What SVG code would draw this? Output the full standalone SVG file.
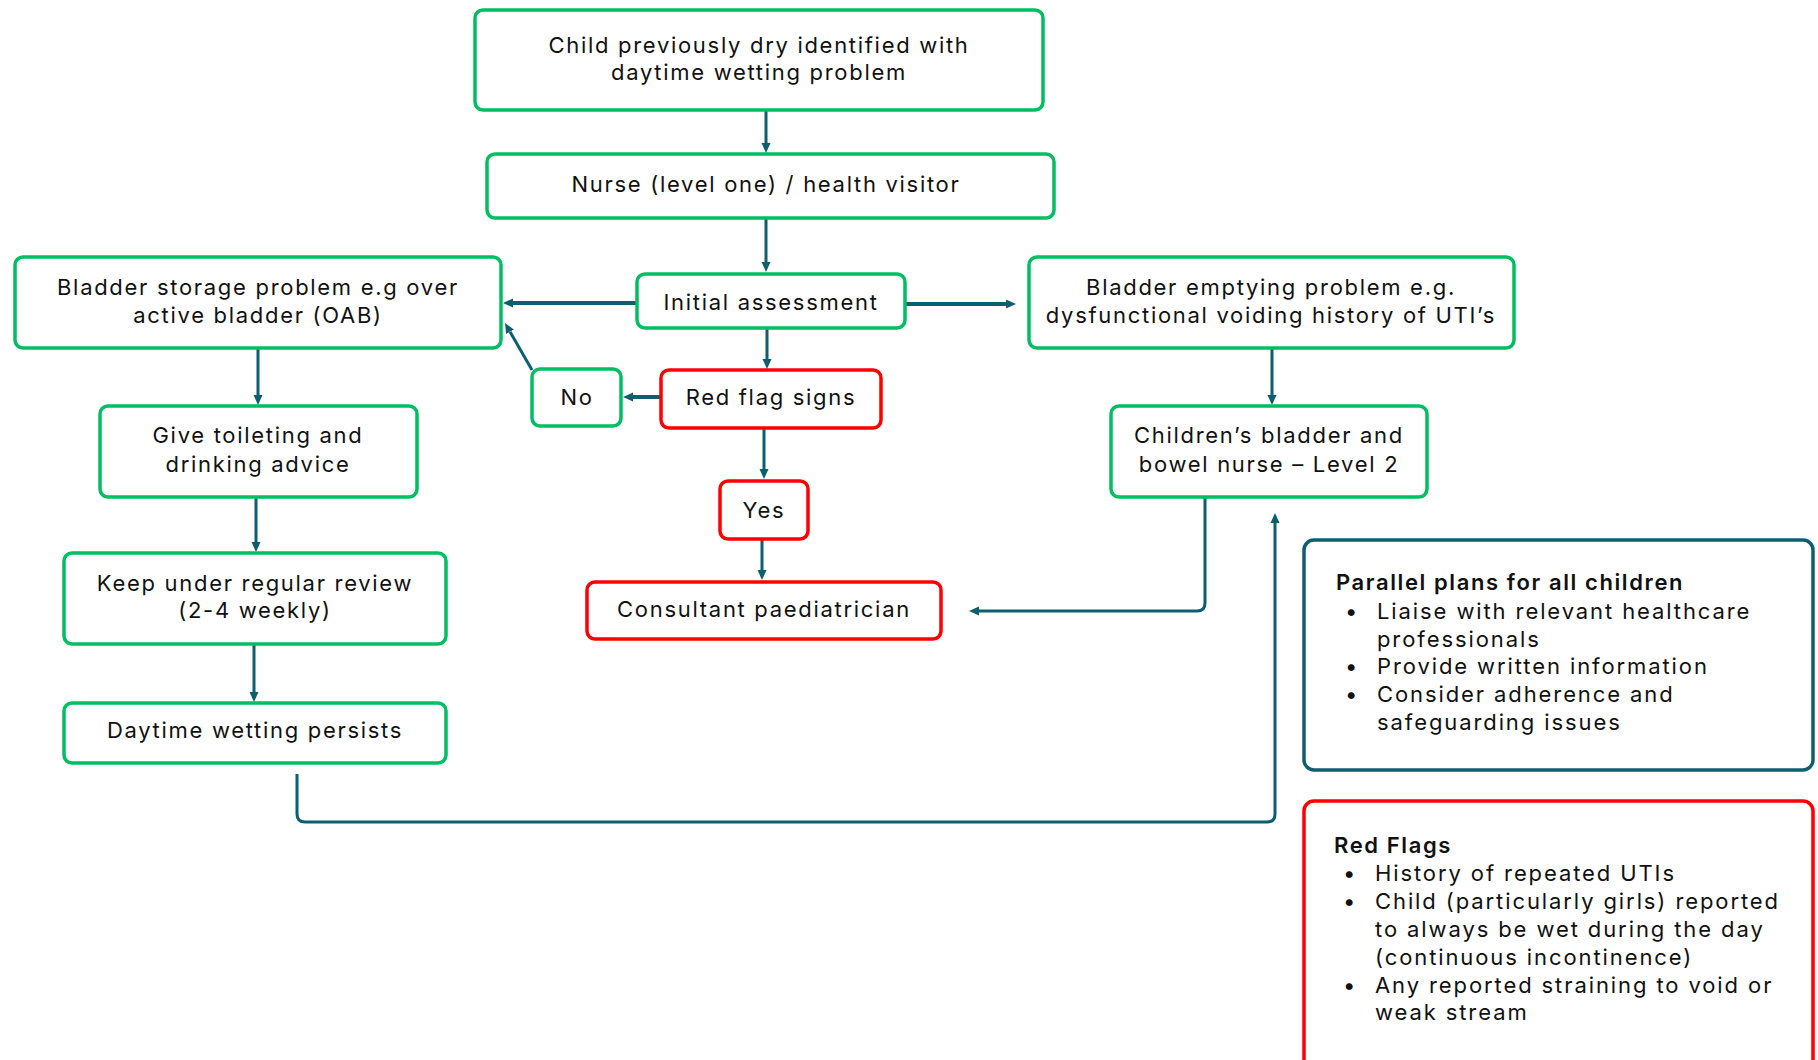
<svg xmlns="http://www.w3.org/2000/svg" width="1818" height="1060" viewBox="0 0 1818 1060">
<style>
.g{fill:#fff;stroke:#00BF63;stroke-width:3.5}
.r{fill:#fff;stroke:#FF0000;stroke-width:3.5}
.b{fill:#fff;stroke:#0B5F6F;stroke-width:3.5}
text{font-family:Inter,"Liberation Sans",sans-serif;font-size:22px;letter-spacing:1.7px;fill:#111}
.c{text-anchor:middle}
.p text{letter-spacing:1.9px}
.p text.bold{font-weight:600;letter-spacing:1.6px}
.con{fill:none;stroke:#0B5F6F;stroke-width:3;marker-end:url(#ah)}
.thick{stroke-width:4}
</style>
<defs>
<marker id="ah" viewBox="0 0 10 10" refX="0" refY="5" markerWidth="10" markerHeight="10" markerUnits="userSpaceOnUse" orient="auto">
<path d="M0,0.5 L10,5 L0,9.5 z" fill="#0B5F6F"/>
</marker>
</defs>
<rect width="1818" height="1060" fill="#fff"/>
<g id="connectors">
<path class="con" d="M766,110 V143"/>
<path class="con" d="M766,218 V262"/>
<path class="con thick" d="M637,303 H513"/>
<path class="con thick" d="M905,304 H1006"/>
<path class="con" d="M767,328 V359"/>
<path class="con thick" d="M661,397 H633"/>
<path class="con" d="M532,370 L510,331.7"/>
<path class="con" d="M764,428 V469"/>
<path class="con" d="M762,539 V570"/>
<path class="con" d="M258,348 V395"/>
<path class="con" d="M256,497 V542"/>
<path class="con" d="M254,644 V692"/>
<path class="con" d="M1272,348 V395"/>
<path class="con" d="M1205,497 V603 Q1205,611 1197,611 H979"/>
<path class="con" d="M297,774 V814 Q297,822 305,822 H1267 Q1275,822 1275,814 V523"/>
</g>
<g id="n-start">
<rect class="g" x="475" y="10" width="568" height="100" rx="8"/>
<text class="c" x="759" y="53">Child previously dry identified with</text>
<text class="c" x="759" y="80">daytime wetting problem</text>
</g>
<g id="n-nurse">
<rect class="g" x="487" y="154" width="567" height="64" rx="8"/>
<text class="c" x="766" y="192">Nurse (level one) / health visitor</text>
</g>
<g id="n-initial">
<rect class="g" x="637" y="274" width="268" height="54" rx="8"/>
<text class="c" x="771" y="310">Initial assessment</text>
</g>
<g id="n-storage">
<rect class="g" x="15" y="257" width="486" height="91" rx="8"/>
<text class="c" x="258" y="295">Bladder storage problem e.g over</text>
<text class="c" x="258" y="323">active bladder (OAB)</text>
</g>
<g id="n-emptying">
<rect class="g" x="1029" y="257" width="485" height="91" rx="8"/>
<text class="c" x="1271" y="295">Bladder emptying problem e.g.</text>
<text class="c" x="1271" y="323">dysfunctional voiding history of UTI’s</text>
</g>
<g id="n-redflag">
<rect class="r" x="661" y="370" width="220" height="58" rx="8"/>
<text class="c" x="771" y="405">Red flag signs</text>
</g>
<g id="n-no">
<rect class="g" x="532" y="369" width="89" height="57" rx="8"/>
<text class="c" x="577" y="405">No</text>
</g>
<g id="n-yes">
<rect class="r" x="720" y="481" width="88" height="58" rx="8"/>
<text class="c" x="764" y="518">Yes</text>
</g>
<g id="n-consultant">
<rect class="r" x="587" y="582" width="354" height="57" rx="8"/>
<text class="c" x="764" y="617">Consultant paediatrician</text>
</g>
<g id="n-children">
<rect class="g" x="1111" y="406" width="316" height="91" rx="8"/>
<text class="c" x="1269" y="443">Children’s bladder and</text>
<text class="c" x="1269" y="472">bowel nurse – Level 2</text>
</g>
<g id="n-give">
<rect class="g" x="100" y="406" width="317" height="91" rx="8"/>
<text class="c" x="258" y="443">Give toileting and</text>
<text class="c" x="258" y="472">drinking advice</text>
</g>
<g id="n-keep">
<rect class="g" x="64" y="553" width="382" height="91" rx="8"/>
<text class="c" x="255" y="591">Keep under regular review</text>
<text class="c" x="255" y="618">(2-4 weekly)</text>
</g>
<g id="n-persists">
<rect class="g" x="64" y="703" width="382" height="60" rx="8"/>
<text class="c" x="255" y="738">Daytime wetting persists</text>
</g>
<g id="n-parallel" class="p">
<rect class="b" x="1304" y="540" width="509" height="230" rx="10"/>
<text class="bold" x="1336" y="590">Parallel plans for all children</text>
<text x="1345" y="619">•</text><text x="1377" y="619">Liaise with relevant healthcare</text>
<text x="1377" y="647">professionals</text>
<text x="1345" y="674">•</text><text x="1377" y="674">Provide written information</text>
<text x="1345" y="702">•</text><text x="1377" y="702">Consider adherence and</text>
<text x="1377" y="730">safeguarding issues</text>
</g>
<g id="n-redflags" class="p">
<rect class="r" x="1304" y="801" width="509" height="280" rx="10"/>
<text class="bold" x="1334" y="853">Red Flags</text>
<text x="1343" y="881">•</text><text x="1375" y="881">History of repeated UTIs</text>
<text x="1343" y="909">•</text><text x="1375" y="909">Child (particularly girls) reported</text>
<text x="1375" y="937">to always be wet during the day</text>
<text x="1375" y="965">(continuous incontinence)</text>
<text x="1343" y="993">•</text><text x="1375" y="993">Any reported straining to void or</text>
<text x="1375" y="1020">weak stream</text>
</g>
</svg>
